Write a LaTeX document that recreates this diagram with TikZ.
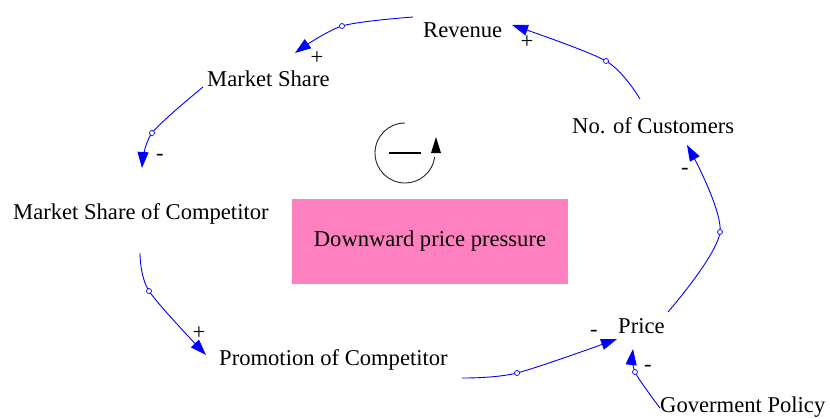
\documentclass[tikz,border=0pt]{standalone}
\usepackage{fontspec}
\setmainfont{Liberation Serif}
\usetikzlibrary{arrows.meta}
\definecolor{linkblue}{RGB}{0,0,255}
\definecolor{notepink}{RGB}{255,128,192}

\begin{document}
\begin{tikzpicture}[x=1pt,y=-1pt,
  var/.style={inner sep=0pt, anchor=base west, font=\fontsize{22.6}{27}\selectfont},
  sign/.style={inner sep=0pt, font=\fontsize{22.6}{27}\selectfont},
  link/.style={draw=linkblue, line width=0.9pt, -{Triangle[length=16pt,width=11pt]}},
  hole/.style={circle, draw=linkblue, fill=white, line width=0.7pt, minimum size=5pt, inner sep=0pt},
  loopline/.style={draw=black!85, line width=0.9pt}]
\useasboundingbox[fill=white] (0,0) rectangle (830,418);

% note box
\node[fill=notepink, minimum width=276pt, minimum height=85pt, inner sep=0pt,
      font=\fontsize{22.6}{27}\selectfont] (note) at (430,241.5) {Downward price pressure};

% variables
\node[var] (rev)   at (423,37)  {Revenue};
\node[var] (ms)    at (207,86)  {Market Share};
\node[var] (noc)   at (572,133) {No. of Customers};
\node[var] (msc)   at (13,219)  {Market Share of Competitor};
\node[var] (prom)  at (219,365) {Promotion of Competitor};
\node[var] (price) at (618,333) {Price};
\node[var] (gov)   at (660,412) {Goverment Policy};

% midpoints of the causal links
\coordinate (m1) at (342,26);
\coordinate (m2) at (606,61);
\coordinate (m3) at (152,133);
\coordinate (m4) at (149,291);
\coordinate (m5) at (517,373);
\coordinate (m6) at (635,372);
\coordinate (m7) at (720,232);

% causal links
\draw[link] plot[smooth] coordinates {([shift={(-10,-20)}]rev.base west) (m1) ([shift={(88,-33)}]ms.base west)};
\draw[link] plot[smooth] coordinates {([shift={(68,-34)}]noc.base west) (m2) ([shift={(89,-12)}]rev.base west)};
\draw[link] plot[smooth] coordinates {([shift={(-4,1)}]ms.base west) (m3) ([shift={(129,-51)}]msc.base west)};
\draw[link] plot[smooth] coordinates {([shift={(127,34)}]msc.base west) (m4) ([shift={(-13,-10)}]prom.base west)};
\draw[link] plot[smooth] coordinates {([shift={(243,13)}]prom.base west) (m5) ([shift={(-1,6)}]price.base west)};
\draw[link] plot[smooth] coordinates {([shift={(0,-4)}]gov.base west) (m6) ([shift={(15,16)}]price.base west)};
\draw[link] plot[smooth] coordinates {([shift={(50,-21)}]price.base west) (m7) ([shift={(115,12)}]noc.base west)};

\foreach \m in {m1,m2,m3,m4,m5,m6,m7} \node[hole] (h\m) at (\m) {};

% polarity signs
\node[sign] (s1) at (317,58)  {+};
\node[sign] (s2) at (527,42)  {+};
\node[sign] (s3) at (160,157) {-};
\node[sign] (s4) at (199,333) {+};
\node[sign] (s5) at (594,333) {-};
\node[sign] (s6) at (648,368) {-};
\node[sign] (s7) at (685,171) {-};

% balancing loop marker
\draw[loopline] (405,123) arc[start angle=270, end angle=8, radius=30];
\fill[black] (436,137) -- (431,153) -- (441,153) -- cycle;
\draw[line width=2.5pt] (389,153) -- (421,153);
\end{tikzpicture}
\end{document}
